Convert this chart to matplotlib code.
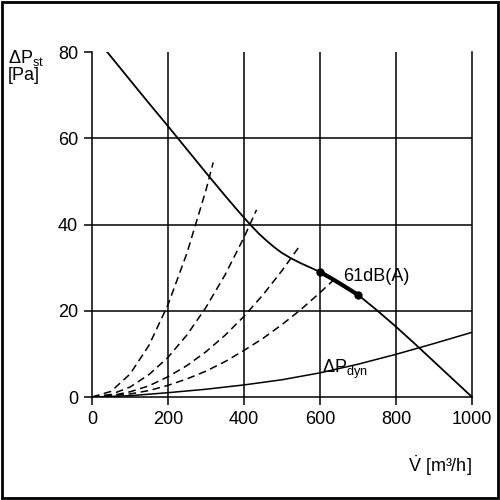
import matplotlib
matplotlib.use('Agg')
import matplotlib.pyplot as plt
from matplotlib.patches import Rectangle

# fan curve (static pressure vs flow)
fan_x = [40, 100, 150, 200, 250, 300, 350, 380, 400, 416, 440, 460, 480, 500, 525, 550, 575, 600]
fan_y = [80, 73.5, 68.1, 62.8, 57.4, 52.0, 46.7, 43.6, 41.6, 40, 37.8, 36.2, 34.7, 33.4, 32.1, 31.0, 30.0, 29]
op_x = [600, 630, 660, 700]
op_y = [29, 27.5, 25.9, 23.7]
tail_x = [700, 750, 800, 850, 900, 950, 1000]
tail_y = [23.7, 20.1, 16.3, 12.3, 8.2, 4.1, 0]

# system curves (dashed)
sys1_x = [0, 50, 100, 150, 200, 250, 300, 319]
sys1_y = [0, 1.3, 5.3, 12, 21.4, 33.4, 48, 54.4]
sys2_x = [0, 50, 100, 150, 200, 250, 300, 350, 400, 433]
sys2_y = [0, 0.6, 2.3, 5.2, 9.2, 14.4, 20.8, 28.3, 37, 43.4]
sys3_x = [0, 50, 100, 150, 200, 250, 300, 350, 400, 450, 500, 543]
sys3_y = [0, 0.3, 1.2, 2.6, 4.7, 7.3, 10.5, 14.3, 18.7, 23.7, 29.3, 34.6]
sys4_x = [0, 100, 150, 200, 250, 300, 350, 400, 450, 500, 550, 600, 634]
sys4_y = [0, 0.7, 1.5, 2.7, 4.2, 6, 8.2, 10.8, 13.6, 16.8, 20.3, 24.2, 27]

# dynamic pressure
dyn_x = [0, 100, 200, 300, 400, 500, 600, 700, 800, 900, 1000]
dyn_y = [0, 0.3, 1, 1.8, 2.8, 4, 5.6, 7.6, 9.9, 12.4, 15]

plt.rcParams['font.family'] = ['Liberation Sans', 'DejaVu Sans']
plt.rcParams['mathtext.default'] = 'regular'

fig = plt.figure(figsize=(5, 5), dpi=100)
ax = fig.add_axes([0.184, 0.206, 0.760, 0.690])
ax.set_xlim(0, 1000)
ax.set_ylim(0, 80)
ax.set_xticks(range(0, 1001, 200))
ax.set_yticks(range(0, 81, 20))
ax.tick_params(direction='out', length=6, width=1.1, labelsize=13, pad=4)
ax.spines['top'].set_visible(False)
for s in ['left', 'right', 'bottom']:
    ax.spines[s].set_linewidth(1.1)
for v in range(200, 1000, 200):
    ax.axvline(v, color='black', lw=1.1)
for h in range(20, 80, 20):
    ax.axhline(h, color='black', lw=1.1)

for xs, ys in [(sys1_x, sys1_y), (sys2_x, sys2_y), (sys3_x, sys3_y), (sys4_x, sys4_y)]:
    ax.plot(xs, ys, color='black', lw=1.1, dashes=(5, 3))
ax.plot(dyn_x, dyn_y, color='black', lw=1.1)
ax.plot(fan_x, fan_y, color='black', lw=1.3)
ax.plot(tail_x, tail_y, color='black', lw=1.3)
ax.plot(op_x, op_y, color='black', lw=3)
ax.plot([op_x[0], op_x[-1]], [op_y[0], op_y[-1]], 'o', color='black', ms=5)

ax.text(660, 28, '61dB(A)', fontsize=13, va='center')
ax.text(605, 6.5, 'ΔP$_{dyn}$', fontsize=13, va='center')

fig.text(0.016, 0.905, 'ΔP$_{st}$\n[Pa]', fontsize=13, va='top', ha='left', linespacing=1.0)
fig.text(0.944, 0.068, r'$\dot{V}$ [m³/h]', fontsize=13, va='center', ha='right')

fig.patches.append(Rectangle((0.004, 0.004), 0.992, 0.992, transform=fig.transFigure,
                             fill=False, edgecolor='black', lw=2))
fig.savefig('out.png', dpi=100)
